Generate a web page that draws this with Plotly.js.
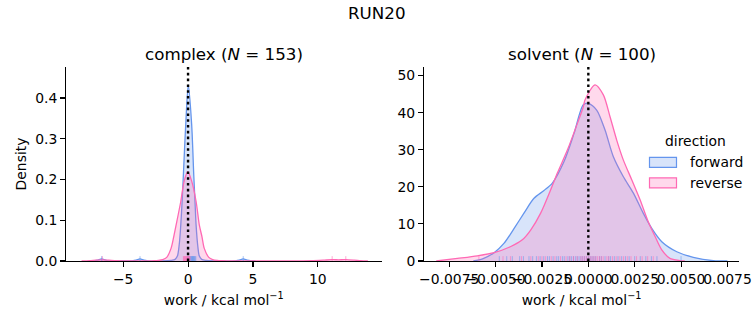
<!DOCTYPE html>
<html><head><meta charset="utf-8">
<script src="https://cdn.plot.ly/plotly-3.0.1.min.js"></script>
<style>html,body{margin:0;padding:0;background:#fff}#chart{width:753px;height:325px}</style>
</head><body><div id="chart"></div>
<script>
// ---- data ----
const directions = ["forward", "reverse"];
const complexTitle = "complex (<i>N</i> = 153)";
const solventTitle = "solvent (<i>N</i> = 100)";

const complexForwardX = [-7.6,-7.2,-6.95,-6.65,-6.35,-6.1,-5.0,-4.3,-4.0,-3.7,-3.4,-3.1,-2.0,-1.3,-1.0,-0.82,-0.68,-0.56,-0.45,-0.36,-0.18,0.02,0.28,0.44,0.53,0.62,0.74,0.87,1.05,1.4,2.5,3.65,3.95,4.25,4.55,4.85,5.2];
const complexForwardY = [0,0.0005,0.002,0.005,0.002,0.0005,0,0.0005,0.002,0.005,0.002,0.0005,0,0.0015,0.004,0.012,0.04,0.088,0.15,0.211,0.334,0.432,0.334,0.211,0.15,0.088,0.04,0.012,0.004,0.0015,0,0.0005,0.002,0.005,0.002,0.0005,0];

const complexReverseX = [-8.2,-7.6,-7.1,-6.6,-6.1,-5.5,-4.5,-3.0,-2.6,-2.3,-1.95,-1.64,-1.31,-1.1,-0.92,-0.56,-0.3,-0.02,0.28,0.62,0.87,1.07,1.25,1.6,1.9,2.25,2.6,3.5,8.0,9.5,10.4,11.1,11.6,12.15,12.8,13.3,13.85];
const complexReverseY = [0,0.0008,0.002,0.003,0.002,0.0008,0.0002,0.0003,0.0008,0.0015,0.0035,0.009,0.031,0.06,0.088,0.146,0.196,0.219,0.196,0.146,0.088,0.06,0.031,0.009,0.0035,0.0015,0.0008,0.0002,0.0002,0.0008,0.002,0.0032,0.003,0.0032,0.002,0.0008,0];

const solventForwardX = [-0.0062,-0.0057,-0.00508,-0.00454,-0.0040,-0.00347,-0.00293,-0.00239,-0.00194,-0.00131,-0.00077,-0.00027,0.0000,0.00045,0.0009,0.00135,0.00189,0.00243,0.00296,0.00342,0.00396,0.00477,0.00566,0.00674,0.0075];
const solventForwardY = [0,0.6,2.24,4.8,8.8,12.9,16.9,19.0,21.0,26.8,34.4,42.1,42.5,40.7,35.3,28.1,22.7,18.3,12.9,8.8,5.2,2.5,1.0,0.1,0];

const solventReverseX = [-0.0082,-0.00706,-0.00598,-0.00508,-0.00418,-0.00356,-0.0031,-0.00257,-0.00203,-0.00167,-0.00113,-0.00059,-0.00027,-0.00018,0.00036,0.00081,0.00117,0.00153,0.00189,0.00234,0.00279,0.00323,0.0036,0.00396,0.0044,0.00494,0.0052];
const solventReverseY = [0,0.7,1.4,2.24,3.9,5.7,8.4,12.9,19.2,23.7,29.9,37.1,41.6,43.4,47.5,44.8,38.9,32.6,27.2,21.9,16.5,10.6,6.6,3.0,0.7,0.1,0];

const complexForwardRug = [-6.65,-3.7,4.25,0.15,0.2,0.24,0.28,0.31,0.34,0.37,0.4,0.43,0.46,0.5,0.55,0.6,0.05,0.1,-0.05];
const complexReverseRug = [-6.6,11.1,12.15,-0.36,-0.32,-0.28,-0.24,-0.2,-0.16,-0.12,-0.08,-0.04,0.0,0.04,0.08,0.12,0.15];

const solventForwardRug = [-0.0048,-0.0044,-0.0041,-0.0037,-0.0035,-0.0032,-0.0030,-0.0028,-0.0026,-0.0024,-0.0022,-0.0021,-0.0019,-0.0017,-0.0016,-0.0014,-0.0013,-0.0011,-0.0010,-0.0009,-0.0008,-0.0007,-0.0006,-0.0005,-0.0004,-0.0003,-0.0002,-0.0001,0.0000,0.0001,0.0002,0.0003,0.0004,0.0006,0.0007,0.0009,0.0011,0.0012,0.0014,0.0016,0.0018,0.0020,0.0022,0.0025,0.0028,0.0031,0.0034,0.0037,0.0050];
const solventReverseRug = [-0.0059,-0.0046,-0.0042,-0.0036,-0.0031,-0.0027,-0.0025,-0.0023,-0.0020,-0.0018,-0.0015,-0.0012,-0.0010,-0.0008,-0.0006,-0.0004,-0.0003,-0.0002,-0.0001,0.0000,0.0001,0.0002,0.0003,0.0004,0.0005,0.0006,0.0007,0.0008,0.0010,0.0011,0.0013,0.0015,0.0017,0.0019,0.0021,0.0023,0.0026,0.0029,0.0032,0.0035];

const complexXTicks = [-5, 0, 5, 10];
const complexYTicks = [0, 0.1, 0.2, 0.3, 0.4];
const complexYTickText = ["0.0", "0.1", "0.2", "0.3", "0.4"];
const solventXTicks = [-0.0075, -0.005, -0.0025, 0, 0.0025, 0.005, 0.0075];
const solventXTickText = ["\u22120.0075", "\u22120.0050", "\u22120.0025", "0.0000", "0.0025", "0.0050", "0.0075"];
const solventYTicks = [0, 10, 20, 30, 40, 50];

// ---- styling ----
const W = 753, H = 325;
const BLUE = "rgb(100,149,237)", PINK = "rgb(255,105,180)";
const BLUE_F = "rgba(100,149,237,0.25)", PINK_F = "rgba(255,105,180,0.25)";
const FONT = "DejaVu Sans, sans-serif";
const px = v => v / W, py = v => 1 - v / H;

function kde(x, y, col, fcol, xa, ya) {
  return {x: x, y: y, xaxis: xa, yaxis: ya, type: "scatter", mode: "lines",
    line: {color: col, width: 1.3, shape: "spline", smoothing: 0.8},
    fill: "tozeroy", fillcolor: fcol, showlegend: false, hoverinfo: "skip"};
}
const data = [
  kde(complexForwardX, complexForwardY, BLUE, BLUE_F, "x", "y"),
  kde(complexReverseX, complexReverseY, PINK, PINK_F, "x", "y"),
  kde(solventForwardX, solventForwardY, BLUE, BLUE_F, "x2", "y2"),
  kde(solventReverseX, solventReverseY, PINK, PINK_F, "x2", "y2")
];

const shapes = [];
function rug(vals, col, xr, yr) {
  vals.forEach(v => shapes.push({type: "line", xref: xr, yref: yr + " domain", x0: v, x1: v, y0: 0, y1: 0.025,
    line: {color: col, width: 1}, opacity: 0.55}));
}
rug(complexForwardRug, BLUE, "x", "y");
rug(complexReverseRug, PINK, "x", "y");
rug(solventForwardRug, BLUE, "x2", "y2");
rug(solventReverseRug, PINK, "x2", "y2");
["x", "x2"].forEach((xr, i) => shapes.push({type: "line", xref: xr, yref: (i ? "y2" : "y") + " domain",
  x0: 0, x1: 0, y0: 0, y1: 1, line: {color: "black", width: 2.4, dash: "2.6px,3.2px"}}));

// legend patches
shapes.push({type: "rect", xref: "paper", yref: "paper", x0: px(649.5), x1: px(676.5), y0: py(167.3), y1: py(157.3),
  line: {color: BLUE, width: 1.2}, fillcolor: BLUE_F});
shapes.push({type: "rect", xref: "paper", yref: "paper", x0: px(649.5), x1: px(676.5), y0: py(187.9), y1: py(177.9),
  line: {color: PINK, width: 1.2}, fillcolor: PINK_F});

const ann = (text, x, y, size, xanchor) => ({text: text, x: px(x), y: py(y), xref: "paper", yref: "paper",
  showarrow: false, font: {size: size}, xanchor: xanchor || "center", yanchor: "middle"});
const annotations = [
  ann("RUN20", 377, 13, 16.7),
  ann(complexTitle, 223.8, 54, 16.7),
  ann(solventTitle, 581.7, 54, 16.7),
  ann("direction", 695, 141, 13.9),
  ann(directions[0], 688, 162, 13.9, "left"),
  ann(directions[1], 688, 182.5, 13.9, "left")
];

const axBase = {showgrid: false, zeroline: false, showline: true, linecolor: "black", linewidth: 1.1,
  ticks: "outside", ticklen: 4.9, tickwidth: 1.1, tickcolor: "black", tickangle: 0,
  tickfont: {size: 13.9, color: "black"}, fixedrange: true};
const yDom = [1 - 261 / H, 1 - 67 / H];
const xTitle = {text: "work / kcal mol<sup>\u22121</sup>", font: {size: 13.9}, standoff: 9};

const layout = {
  width: W, height: H, margin: {l: 0, r: 0, t: 0, b: 0},
  paper_bgcolor: "white", plot_bgcolor: "white",
  font: {family: FONT, color: "black"}, showlegend: false,
  xaxis: Object.assign({}, axBase, {domain: [px(66), px(381.5)], range: [-9.4, 14.9], anchor: "y",
    tickmode: "array", tickvals: complexXTicks, title: xTitle}),
  yaxis: Object.assign({}, axBase, {domain: yDom, range: [0, 0.476], anchor: "x",
    tickmode: "array", tickvals: complexYTicks, ticktext: complexYTickText,
    title: {text: "Density", font: {size: 13.9}, standoff: 5}}),
  xaxis2: Object.assign({}, axBase, {domain: [px(424), px(739.3)], range: [-0.00886, 0.00814], anchor: "y2",
    tickmode: "array", tickvals: solventXTicks, ticktext: solventXTickText, title: xTitle}),
  yaxis2: Object.assign({}, axBase, {domain: yDom, range: [0, 52.3], anchor: "x2",
    tickmode: "array", tickvals: solventYTicks}),
  shapes: shapes, annotations: annotations
};
Plotly.newPlot("chart", data, layout, {staticPlot: true, displayModeBar: false});
</script></body></html>
